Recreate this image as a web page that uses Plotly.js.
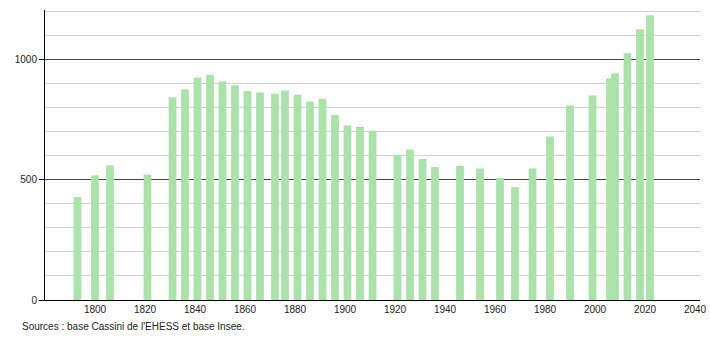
<!DOCTYPE html>
<html>
<head>
<meta charset="utf-8">
<script src="https://cdn.plot.ly/plotly-3.0.1.min.js"></script>
<style>html,body{margin:0;padding:0;background:#fff;}#chart{width:710px;height:340px;}</style>
</head>
<body>
<div id="chart"></div>
<script>
var years = [1793,1800,1806,1821,1831,1836,1841,1846,1851,1856,1861,1866,1872,1876,1881,1886,1891,1896,1901,1906,1911,1921,1926,1931,1936,1946,1954,1962,1968,1975,1982,1990,1999,2006,2008,2013,2018,2022];
var population = [428,518,560,521,842,875,925,936,908,892,868,862,857,871,853,825,836,769,725,719,703,603,625,586,553,558,546,507,469,546,679,808,850,921,942,1025,1125,1183];
var xTicks = [1800,1820,1840,1860,1880,1900,1920,1940,1960,1980,2000,2020,2040];
var yTicks = [0,500,1000];
var sourceText = "Sources : base Cassini de l'EHESS et base Insee.";

var trace = {
  type: 'bar',
  x: years,
  y: population,
  width: 3.1,
  marker: {color: '#aae2aa', line: {width: 0}},
  hoverinfo: 'x+y'
};

var layout = {
  width: 710, height: 340,
  margin: {l: 45, r: 10, t: 10, b: 40},
  paper_bgcolor: '#fff', plot_bgcolor: '#fff',
  showlegend: false,
  font: {family: 'Liberation Sans, Arial, sans-serif', size: 10, color: '#222'},
  xaxis: {
    range: [1780, 2042],
    tickvals: xTicks,
    ticktext: xTicks.map(String),
    showgrid: false,
    zeroline: false,
    showline: true, linecolor: '#000', linewidth: 1,
    ticks: '',
    tickfont: {size: 10, color: '#222'}
  },
  yaxis: {
    range: [0, 1205],
    tickvals: yTicks,
    ticktext: yTicks.map(String),
    showgrid: true, gridcolor: '#444', gridwidth: 1,
    minor: {dtick: 100, tick0: 0, showgrid: true, gridcolor: '#d0d0d0', gridwidth: 1, ticks: ''},
    zeroline: false,
    showline: true, linecolor: '#000', linewidth: 1,
    ticks: 'outside', ticklen: 5, tickcolor: '#000',
    tickfont: {size: 10, color: '#222'}
  },
  annotations: [{
    text: sourceText,
    xref: 'paper', yref: 'paper',
    x: -0.038, y: -0.093,
    xanchor: 'left', yanchor: 'middle',
    showarrow: false,
    font: {size: 10, color: '#222'}
  }]
};

Plotly.newPlot('chart', [trace], layout, {displayModeBar: false, staticPlot: true});
</script>
</body>
</html>
